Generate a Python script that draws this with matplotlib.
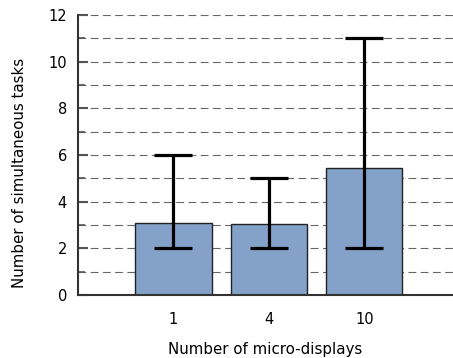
import matplotlib
matplotlib.use("Agg")
import matplotlib.pyplot as plt
import numpy as np

categories = ["1", "4", "10"]
mean_tasks = [3.09, 3.03, 5.46]
min_tasks = [2, 2, 2]
max_tasks = [6, 5, 11]

fig = plt.figure(figsize=(4.53, 3.58), dpi=100)
ax = fig.add_axes([78 / 453, 1 - 295 / 358, (453 - 78) / 453, 280 / 358])

x = np.arange(len(categories))
lower = np.array(mean_tasks) - np.array(min_tasks)
upper = np.array(max_tasks) - np.array(mean_tasks)

ax.bar(x, mean_tasks, width=0.8, color="#84a2c9", edgecolor="#222222",
       linewidth=1.0, zorder=2)
ax.errorbar(x, mean_tasks, yerr=[lower, upper], fmt="none", ecolor="black",
            elinewidth=2.3, capsize=13.5, capthick=2.3, zorder=3)

ax.set_xlim(-1.0, 2.93)
ax.set_ylim(0, 12)
ax.set_yticks(np.arange(0, 13, 2))
ax.set_yticks(np.arange(1, 12, 2), minor=True)
ax.set_xticks(x)
ax.set_xticklabels(categories)

ax.grid(True, axis="y", which="both", linestyle=(0, (7, 4)), color="#666666",
        linewidth=0.8, zorder=0)
ax.set_axisbelow(True)

for side in ("top", "right"):
    ax.spines[side].set_visible(False)
ax.spines["left"].set_color("#333333")
ax.spines["left"].set_linewidth(1.5)
ax.spines["bottom"].set_color("#333333")
ax.spines["bottom"].set_linewidth(1.5)

ax.tick_params(axis="y", which="major", direction="in", length=7, width=1.5,
               color="#555555", labelsize=10.5, pad=8)
ax.tick_params(axis="y", which="minor", direction="in", length=5, width=1.2,
               color="#555555")
ax.tick_params(axis="x", direction="in", length=4, width=1, color="#888888",
               labelsize=10.5, pad=12)

ax.set_xlabel("Number of micro-displays", fontsize=10.8, labelpad=11)
ax.set_ylabel("Number of simultaneous tasks", fontsize=10.8)
ax.yaxis.set_label_coords(-0.136, 0.436)

fig.savefig("out.png", dpi=100)
